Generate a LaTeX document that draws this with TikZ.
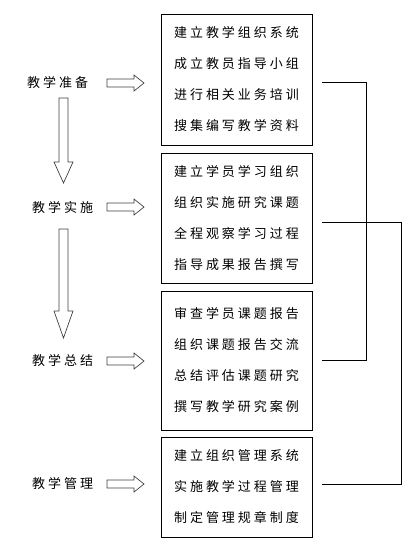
\documentclass[tikz,border=0pt]{standalone}
\usepackage{fontspec}
\usepackage{tikz}
\newfontfamily\cjk[LetterSpace=23]{Noto Sans CJK SC}

\begin{document}
\begin{tikzpicture}[x=1pt, y=-1pt,
    stage/.style={anchor=west, inner sep=0pt, font=\cjk\fontsize{13}{15}\selectfont},
    task/.style={draw, line width=0.8pt, minimum width=151pt, align=left,
      inner sep=0pt, font=\cjk\fontsize{13}{31}\selectfont},
    hollow/.style={draw=black!75, line width=0.7pt, fill=white}]
    \useasboundingbox (0,0) rectangle (411,547);

    % stages on the left
    \node[stage] (prep) at (27,83) {教学准备};
    \node[stage] (impl) at (32,208) {教学实施};
    \node[stage] (summ) at (32,361) {教学总结};
    \node[stage] (mgmt) at (32,484) {教学管理};

    % task boxes
    \node[task, minimum height=131pt] (tprep) at (236.5,79.5)
      {建立教学组织系统\\成立教员指导小组\\进行相关业务培训\\搜集编写教学资料};
    \node[task, minimum height=130pt] (timpl) at (236.5,218)
      {建立学员学习组织\\组织实施研究课题\\全程观察学习过程\\指导成果报告撰写};
    \node[task, minimum height=139pt] (tsumm) at (236.5,360.5)
      {审查学员课题报告\\组织课题报告交流\\总结评估课题研究\\撰写教学研究案例};
    \node[task, minimum height=100pt] (tmgmt) at (236.5,487)
      {建立组织管理系统\\实施教学过程管理\\制定管理规章制度};

    % hollow arrows to the right
    \foreach \y in {83,207,361,484}
      \draw[hollow] (107,\y-4) -- (134,\y-4) -- (134,\y-8) -- (144,\y)
        -- (134,\y+8) -- (134,\y+4) -- (107,\y+4) -- cycle;

    % hollow arrows downwards
    \draw[hollow] (59,98) -- (68,98) -- (68,162) -- (73,162) -- (63.5,183)
      -- (54,162) -- (59,162) -- cycle;
    \draw[hollow] (59,229) -- (68,229) -- (68,311) -- (73,311) -- (63.5,338)
      -- (54,311) -- (59,311) -- cycle;

    % brackets on the right
    \draw[line width=0.7pt] ([xshift=10pt,yshift=-3pt]tprep.east) -- ++(44,0)
      |- ([xshift=10pt]tsumm.east);
    \draw[line width=0.7pt] ([xshift=10pt,yshift=-4pt]timpl.east) -- ++(79,0)
      |- ([xshift=10pt,yshift=3pt]tmgmt.east);
\end{tikzpicture}
\end{document}
